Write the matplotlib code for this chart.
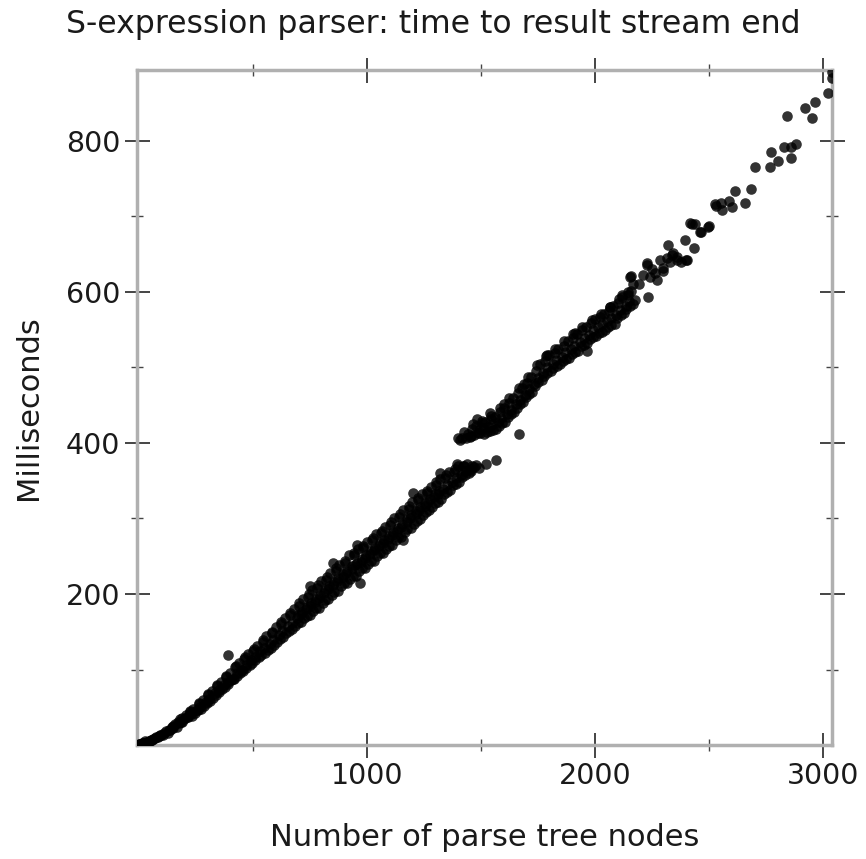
import matplotlib
matplotlib.use("Agg")
import matplotlib.pyplot as plt
from matplotlib.ticker import FixedLocator

# lower cluster (0 .. ~1500 nodes)
nodes_low = [
    0, 2, 5, 8, 10, 15, 20, 30, 50, 60, 70, 90, 100,
    25, 35, 45, 55,
    65, 75, 85, 95,
    105, 112, 120, 128, 135,
    145, 152, 160, 166, 174,
    185, 192, 200, 206, 214,
    225, 232, 240, 246, 254,
    265, 272, 280, 286, 294,
    305, 312, 320, 326, 334,
    345, 352, 360, 366, 374,
    385, 390, 392, 400, 406, 414,
    425, 432, 440, 446, 454,
    465, 472, 480, 486, 494,
    505, 512, 520, 526, 534,
    545, 552, 560, 566, 574,
    585, 592, 600, 606, 614,
    625, 632, 640, 646, 654,
    665, 672, 680, 686, 694,
    705, 712, 715, 720, 726, 734,
    745, 752, 755, 760, 766, 774,
    785, 792, 795, 800, 806, 814,
    825, 832, 835, 840, 846, 854,
    865, 872, 875, 880, 886, 894,
    905, 912, 915, 920, 926, 934,
    945, 952, 955, 960, 966, 974,
    985, 992, 995, 1000, 1006, 1014,
    1025, 1032, 1035, 1040, 1046, 1054,
    1065, 1072, 1075, 1080, 1086, 1094,
    1105, 1112, 1115, 1120, 1126, 1134,
    1145, 1152, 1155, 1160, 1166, 1174,
    1185, 1192, 1195, 1200, 1206, 1214,
    1225, 1232, 1235, 1240, 1246, 1254,
    1265, 1272, 1275, 1280, 1286, 1294,
    1305, 1312, 1315, 1320, 1326, 1334,
    1345, 1352, 1360, 1366, 1374,
    1385, 1392, 1400, 1406, 1414,
    1425, 1432, 1440, 1448, 1456,
    1470, 1480, 1490, 1522, 1566,
    # in between
    138, 144, 150, 178, 183, 190, 218, 223, 230, 258, 263, 270,
    298, 303, 310, 338, 343, 350, 378, 383, 390, 418, 423, 430,
    458, 463, 470, 498, 503, 510, 538, 543, 550, 578, 583, 590,
    618, 623, 630, 658, 663, 670, 698, 703, 710, 700,
    738, 743, 750, 737, 778, 783, 790, 777, 818, 823, 830, 817,
    858, 863, 870, 857, 898, 903, 910, 897, 938, 943, 950, 937,
    978, 983, 990, 977, 1018, 1023, 1030, 1017, 1058, 1063, 1070, 1057,
    1098, 1103, 1110, 1097, 1138, 1143, 1150, 1137, 1178, 1183, 1190, 1177,
    1218, 1223, 1230, 1217, 1258, 1263, 1270, 1257, 1298, 1303, 1310, 1297,
    1338, 1343, 1350, 1378, 1383, 1390, 1418, 1423, 1430, 1458, 1463,
    # points sticking out of the band
    750, 851, 956, 969, 1158, 1202, 1320, 1395,
]
ms_low = [
    0, 1, 2, 2, 1, 3, 3, 5, 5, 7, 9, 12, 13,
    3, 4, 5, 6,
    8, 10, 11, 13,
    13, 16, 18, 16, 20,
    22, 25, 28, 24, 30,
    30, 36, 34, 40, 37,
    45, 39, 48, 42, 47,
    56, 48, 60, 52, 57,
    67, 58, 72, 62, 69,
    80, 70, 84, 74, 80,
    92, 119, 81, 96, 86, 88,
    104, 92, 108, 96, 100,
    116, 102, 120, 106, 112,
    127, 112, 131, 116, 124,
    139, 122, 144, 126, 134,
    150, 132, 156, 137, 146,
    163, 143, 168, 148, 157,
    175, 153, 180, 158, 168,
    188, 163, 176, 193, 168, 180,
    200, 172, 188, 205, 178, 190,
    212, 182, 199, 217, 188, 201,
    223, 193, 210, 228, 199, 212,
    234, 204, 221, 239, 210, 223,
    244, 214, 231, 251, 220, 233,
    254, 224, 241, 259, 230, 243,
    264, 234, 251, 269, 240, 253,
    274, 244, 261, 279, 250, 263,
    284, 254, 271, 289, 260, 273,
    295, 265, 282, 300, 271, 284,
    306, 276, 293, 311, 282, 295,
    317, 287, 304, 322, 293, 306,
    327, 299, 315, 332, 304, 317,
    337, 311, 326, 342, 315, 328,
    348, 322, 337, 352, 326, 339,
    357, 335, 362, 338, 349,
    365, 346, 369, 348, 358,
    370, 357, 372, 360, 366,
    368, 371, 367, 372, 377,
    # in between
    20, 24, 22, 29, 34, 31, 37, 44, 41, 46, 54, 50,
    56, 66, 61, 66, 78, 73, 77, 90, 84, 88, 103, 96,
    98, 114, 106, 108, 125, 117, 119, 136, 128, 129, 148, 139,
    140, 160, 151, 151, 172, 162, 161, 184, 173, 172,
    171, 196, 184, 183, 181, 208, 195, 194, 192, 219, 206, 205,
    203, 230, 217, 216, 214, 241, 228, 227, 224, 251, 238, 237,
    234, 261, 248, 247, 244, 271, 258, 257, 254, 281, 268, 267,
    264, 291, 278, 277, 275, 302, 289, 288, 286, 313, 300, 299,
    297, 324, 311, 310, 309, 334, 322, 321, 320, 344, 333, 332,
    333, 354, 344, 344, 362, 354, 355, 369, 363, 363, 370,
    # points sticking out of the band
    211, 241, 265, 214, 272, 334, 360, 372,
]

# upper cluster (~1400 .. 2170 nodes)
nodes_mid = [
    1398, 1408, 1418,
    1428, 1436, 1444, 1452,
    1465, 1472, 1480, 1488, 1494,
    1505, 1512, 1520, 1526, 1534,
    1545, 1552, 1560, 1566, 1574,
    1585, 1592, 1600, 1606, 1614,
    1625, 1632, 1640, 1646, 1654, 1667,
    1665, 1672, 1680, 1686, 1694,
    1705, 1712, 1720, 1726, 1734,
    1745, 1752, 1760, 1766, 1774,
    1785, 1792, 1800, 1806, 1814,
    1825, 1832, 1840, 1846, 1854,
    1865, 1872, 1880, 1886, 1894,
    1905, 1912, 1920, 1926, 1934,
    1945, 1952, 1960, 1966, 1974,
    1985, 1992, 2000, 2006, 2014,
    2025, 2032, 2040, 2046, 2054,
    2065, 2072, 2080, 2086, 2094,
    2105, 2112, 2120, 2126, 2134,
    2145, 2152, 2160, 2166,
    # in between
    1458, 1462, 1498, 1503, 1510, 1538, 1543, 1550, 1578, 1583, 1590,
    1618, 1623, 1630, 1658, 1663, 1670, 1698, 1703, 1710, 1738, 1743, 1750,
    1778, 1783, 1790, 1818, 1823, 1830, 1858, 1863, 1870, 1898, 1903, 1910,
    1938, 1943, 1950, 1978, 1983, 1990, 2018, 2023, 2030, 2058, 2063, 2070,
    2098, 2103, 2110, 2138, 2143, 2150,
    # points sticking out of the band
    1482, 1540, 1600, 1690, 1789, 1912, 1965, 2066,
]
ms_mid = [
    406, 404, 407,
    414, 406, 412, 408,
    425, 411, 422, 413, 419,
    429, 412, 428, 414, 421,
    436, 417, 435, 419, 428,
    447, 426, 447, 428, 438,
    459, 439, 460, 441, 451, 412,
    473, 452, 473, 454, 464,
    488, 465, 488, 467, 478,
    503, 481, 504, 483, 493,
    515, 493, 516, 495, 505,
    524, 502, 525, 504, 514,
    535, 511, 535, 513, 524,
    544, 520, 544, 522, 534,
    554, 530, 554, 532, 543,
    563, 540, 564, 542, 553,
    571, 547, 571, 549, 561,
    580, 556, 581, 558, 570,
    591, 570, 593, 572, 582,
    600, 582, 601, 584,
    # in between
    409, 419, 413, 427, 420, 416, 432, 425, 423, 441, 433,
    434, 453, 444, 447, 466, 457, 461, 480, 471, 475, 495, 486,
    489, 509, 500, 499, 519, 510, 509, 529, 520, 518, 539, 529,
    528, 549, 539, 538, 559, 549, 546, 567, 557, 554, 575, 565,
    565, 585, 576, 578, 596, 588,
    # points sticking out of the band
    432, 440, 452, 478, 517, 546, 522, 580,
]

# sparse tail (individual points)
nodes_tail = [
    2117, 2154, 2158, 2168, 2175, 2192, 2210, 2227, 2229, 2231, 2241,
    2250, 2263, 2270, 2285, 2298, 2300, 2314, 2322, 2330, 2336, 2342,
    2358, 2360, 2375, 2396, 2398, 2402, 2417, 2424, 2436, 2439, 2461,
    2465, 2497, 2501, 2526, 2529, 2554, 2558, 2589, 2600, 2613, 2658,
    2683, 2702, 2768, 2773, 2801, 2830, 2842, 2858, 2860, 2882, 2921,
    2953, 2966, 3021, 3038, 3040,
]
ms_tail = [
    596, 620, 621, 611, 589, 611, 622, 636, 638, 594, 620,
    630, 625, 616, 642, 632, 628, 645, 662, 640, 649, 652,
    643, 646, 640, 669, 643, 642, 691, 690, 658, 690, 680,
    679, 686, 688, 717, 714, 718, 708, 720, 712, 734, 718,
    736, 765, 765, 785, 774, 792, 833, 792, 778, 796, 844,
    831, 851, 864, 883, 891,
]

fig = plt.figure(figsize=(8.66, 8.59), dpi=100)
ax = fig.add_axes([0.158, 0.1327, 0.803, 0.7858])

for xs, ys in [(nodes_low, ms_low), (nodes_mid, ms_mid), (nodes_tail, ms_tail)]:
    ax.scatter(xs, ys, s=58, color="black", alpha=0.8, linewidths=0, zorder=3)

ax.set_xlim(-8, 3040)
ax.set_ylim(0, 894)

ax.xaxis.set_major_locator(FixedLocator([1000, 2000, 3000]))
ax.xaxis.set_minor_locator(FixedLocator([500, 1500, 2500]))
ax.yaxis.set_major_locator(FixedLocator([200, 400, 600, 800]))
ax.yaxis.set_minor_locator(FixedLocator([100, 300, 500, 700]))

ax.tick_params(which="both", direction="inout", top=True, right=True,
               labeltop=False, labelright=False, color="#444444",
               labelsize=20.5, labelcolor="#1a1a1a")
ax.tick_params(which="major", length=18, width=1.4, pad=3)
ax.tick_params(which="minor", length=9, width=1.0)

for sp in ax.spines.values():
    sp.set_color("#b0b0b0")
    sp.set_linewidth(2.5)

# title is centred on the whole figure, not on the axes
fig.text(0.5, 0.971, "S-expression parser: time to result stream end",
         fontsize=22.7, color="#1a1a1a", ha="center", va="center")
ax.set_xlabel("Number of parse tree nodes", fontsize=22, color="#1a1a1a", labelpad=24)
ax.set_ylabel("Milliseconds", fontsize=22, color="#1a1a1a", labelpad=16)

fig.savefig("out.png", dpi=100)
